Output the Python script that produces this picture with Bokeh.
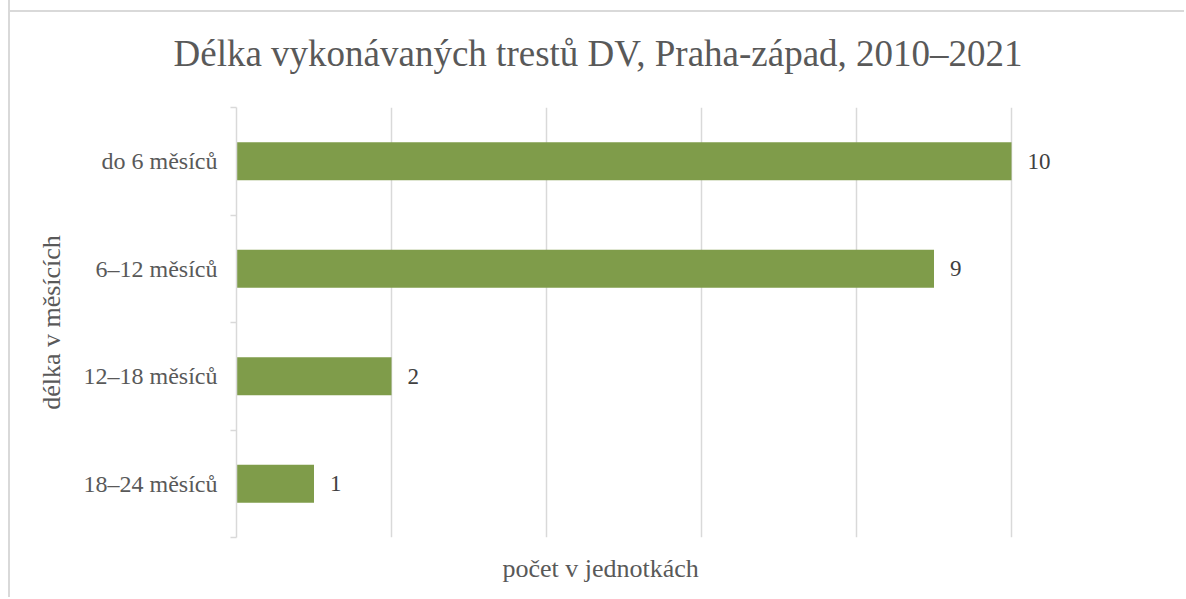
from bokeh.plotting import figure
from bokeh.models import FixedTicker, ColumnDataSource, Title, Range1d
from bokeh.embed import file_html
from bokeh.resources import INLINE
from bokeh.core.properties import value

title_text = "Délka vykonávaných trestů DV, Praha-západ, 2010–2021"
categories = ["do 6 měsíců", "6–12 měsíců", "12–18 měsíců", "18–24 měsíců"]
counts = [10, 9, 2, 1]
x_label = "počet v jednotkách"
y_label = "délka v měsících"
x_grid_ticks = [0, 2, 4, 6, 8, 10, 12]

n = len(categories)
ypos = [n - 0.5 - i for i in range(n)]
src = ColumnDataSource(dict(y=ypos, v=counts, lab=[str(c) for c in counts], cat=categories))

FONT = "Liberation Serif"
TXT = "#595959"

p = figure(width=1176, height=601, output_backend="svg", toolbar_location=None,
           x_range=Range1d(0, 12), y_range=Range1d(0, n),
           min_border_left=226, min_border_right=20, min_border_top=100, min_border_bottom=60,
           title=None)
p.styles = {"margin-left": "8px", "margin-top": "-4px",
            "border-left": "2px solid #d9d9d9",
            "background": "linear-gradient(#d9d9d9, #d9d9d9) 0 14px / 100% 2px no-repeat, #ffffff"}
p.outline_line_color = None
p.background_fill_color = "white"
p.border_fill_alpha = 0

p.hbar(y="y", right="v", left=0, height=0.355, source=src, fill_color="#7f9c4a", line_color=None)
p.text(x="v", y="y", text="lab", source=src, x_offset=16, text_baseline="middle", text_align="left",
       text_font=value(FONT), text_font_size="23px", text_color="#404040")

# x axis: only grid
p.xaxis.ticker = FixedTicker(ticks=[])
p.xaxis.axis_line_color = None
p.xaxis.major_tick_line_color = None
p.xaxis.minor_tick_line_color = None
p.xaxis.major_label_text_font_size = "0px"
p.xgrid.ticker = FixedTicker(ticks=x_grid_ticks)
p.xgrid.grid_line_color = "#d9d9d9"
p.xgrid.grid_line_width = 1.5
p.ygrid.grid_line_color = None

# y axis
yax = p.yaxis[0]
yax.ticker = FixedTicker(ticks=ypos, minor_ticks=list(range(n + 1)))
yax.major_label_overrides = {y: c for y, c in zip(ypos, categories)}
yax.major_tick_out = 0
yax.major_tick_in = 0
yax.minor_tick_out = 6
yax.minor_tick_in = 0
yax.minor_tick_line_color = "#d9d9d9"
yax.minor_tick_line_width = 1.5
yax.axis_line_color = "#d9d9d9"
yax.axis_line_width = 1.5
yax.major_label_standoff = 13
yax.major_label_text_font = FONT
yax.major_label_text_font_size = "24px"
yax.major_label_text_color = TXT
yax.axis_label = y_label
yax.axis_label_text_font = FONT
yax.axis_label_text_font_size = "26px"
yax.axis_label_text_font_style = "normal"
yax.axis_label_text_color = TXT
yax.axis_label_standoff = 15

p.add_layout(Title(text=title_text, align="left", offset=-63, standoff=68,
                   text_font=FONT, text_font_size="37px", text_font_style="normal",
                   text_color=TXT), "above")

p.add_layout(Title(text=x_label, align="left", offset=266, standoff=28,
                   text_font=FONT, text_font_size="26px", text_font_style="normal",
                   text_color=TXT), "below")

open("out.html", "w").write(file_html(p, INLINE))
